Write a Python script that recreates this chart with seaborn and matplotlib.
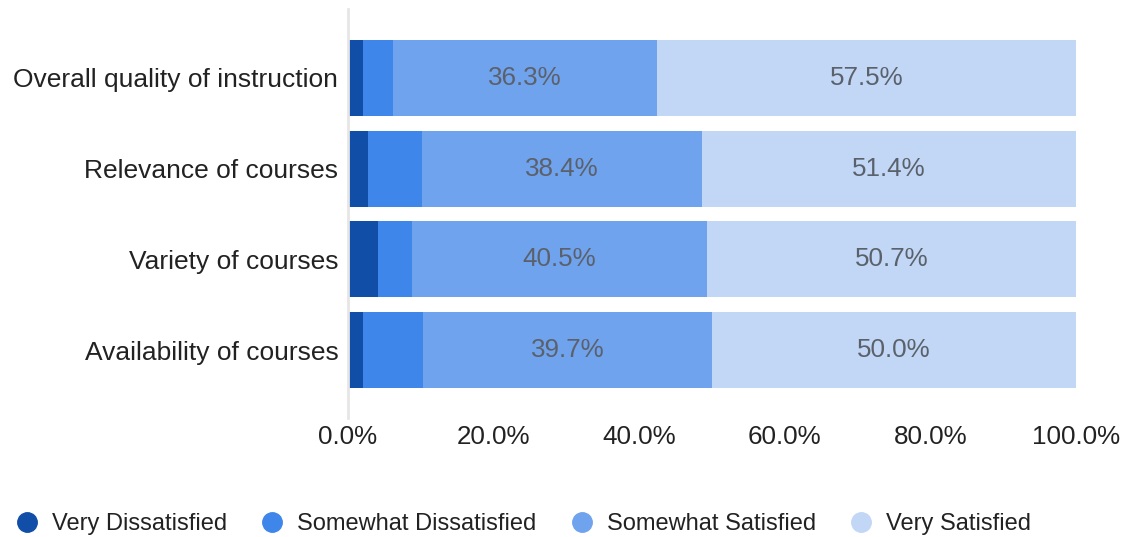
import numpy as np
import pandas as pd
import matplotlib
matplotlib.use("Agg")
import matplotlib.pyplot as plt
import seaborn as sns
from matplotlib.lines import Line2D

# survey categories (top to bottom)
categories = ["Overall quality of instruction", "Relevance of courses",
              "Variety of courses", "Availability of courses"]
series = ["Very Dissatisfied", "Somewhat Dissatisfied",
          "Somewhat Satisfied", "Very Satisfied"]
very_dissatisfied = [2.1, 2.7, 4.1, 2.1]
somewhat_dissatisfied = [4.1, 7.5, 4.7, 8.2]
somewhat_satisfied = [36.3, 38.4, 40.5, 39.7]
very_satisfied = [57.5, 51.4, 50.7, 50.0]
tick_values = [0, 20, 40, 60, 80, 100]

colors = ["#114ea8", "#3f86eb", "#70a3ee", "#c1d7f5"]

sns.set_theme(style="white")
plt.rcParams["font.family"] = ["Liberation Sans", "DejaVu Sans"]

df = pd.DataFrame({
    "category": categories,
    series[0]: very_dissatisfied,
    series[1]: somewhat_dissatisfied,
    series[2]: somewhat_satisfied,
    series[3]: very_satisfied,
})
cum = df[series].cumsum(axis=1)

fig = plt.figure(figsize=(11.26, 5.37), dpi=100)
ax = fig.add_axes([348 / 1126, 1 - 418 / 537, 728 / 1126, 409 / 537])

# draw cumulative totals, widest first, so narrower ones sit on top
for name, col in reversed(list(zip(series, colors))):
    sns.barplot(x=cum[name], y=df["category"], color=col, orient="h",
                width=0.835, saturation=1, ax=ax, edgecolor="none")

# value labels for satisfied segments
for i in range(len(categories)):
    for k in (2, 3):
        left = cum[series[k - 1]][i]
        val = df[series[k]][i]
        ax.text(left + val / 2, i, f"{val:.1f}%", ha="center", va="center",
                fontsize=18.7, color="#5b616b")

ax.set_xlim(0, 100)
ax.set_ylim(3 + 68 / 91, -69 / 91)
ax.set_xticks(tick_values)
ax.set_xticklabels([f"{v:.1f}%" for v in tick_values],
                   fontsize=18.7, color="#222222")
ax.tick_params(axis="x", length=0, pad=5)
ax.tick_params(axis="y", length=0, pad=7)
for lab in ax.get_yticklabels():
    lab.set_fontsize(19)
    lab.set_color("#222222")
ax.set_xlabel("")
ax.set_ylabel("")
for s in ["top", "right", "bottom"]:
    ax.spines[s].set_visible(False)
ax.spines["left"].set_color("#e6e6e6")
ax.spines["left"].set_linewidth(2)

handles = [Line2D([0], [0], marker="o", linestyle="none", markersize=14,
                  markerfacecolor=c, markeredgecolor=c) for c in colors]
fig.legend(handles, series, loc="center left", bbox_to_anchor=(-0.0046, 1 - 524 / 537),
           ncol=4, frameon=False, fontsize=17, handlelength=0.9,
           handletextpad=0.61, columnspacing=1.47, labelcolor="#222222")

fig.savefig("out.png", dpi=100)
